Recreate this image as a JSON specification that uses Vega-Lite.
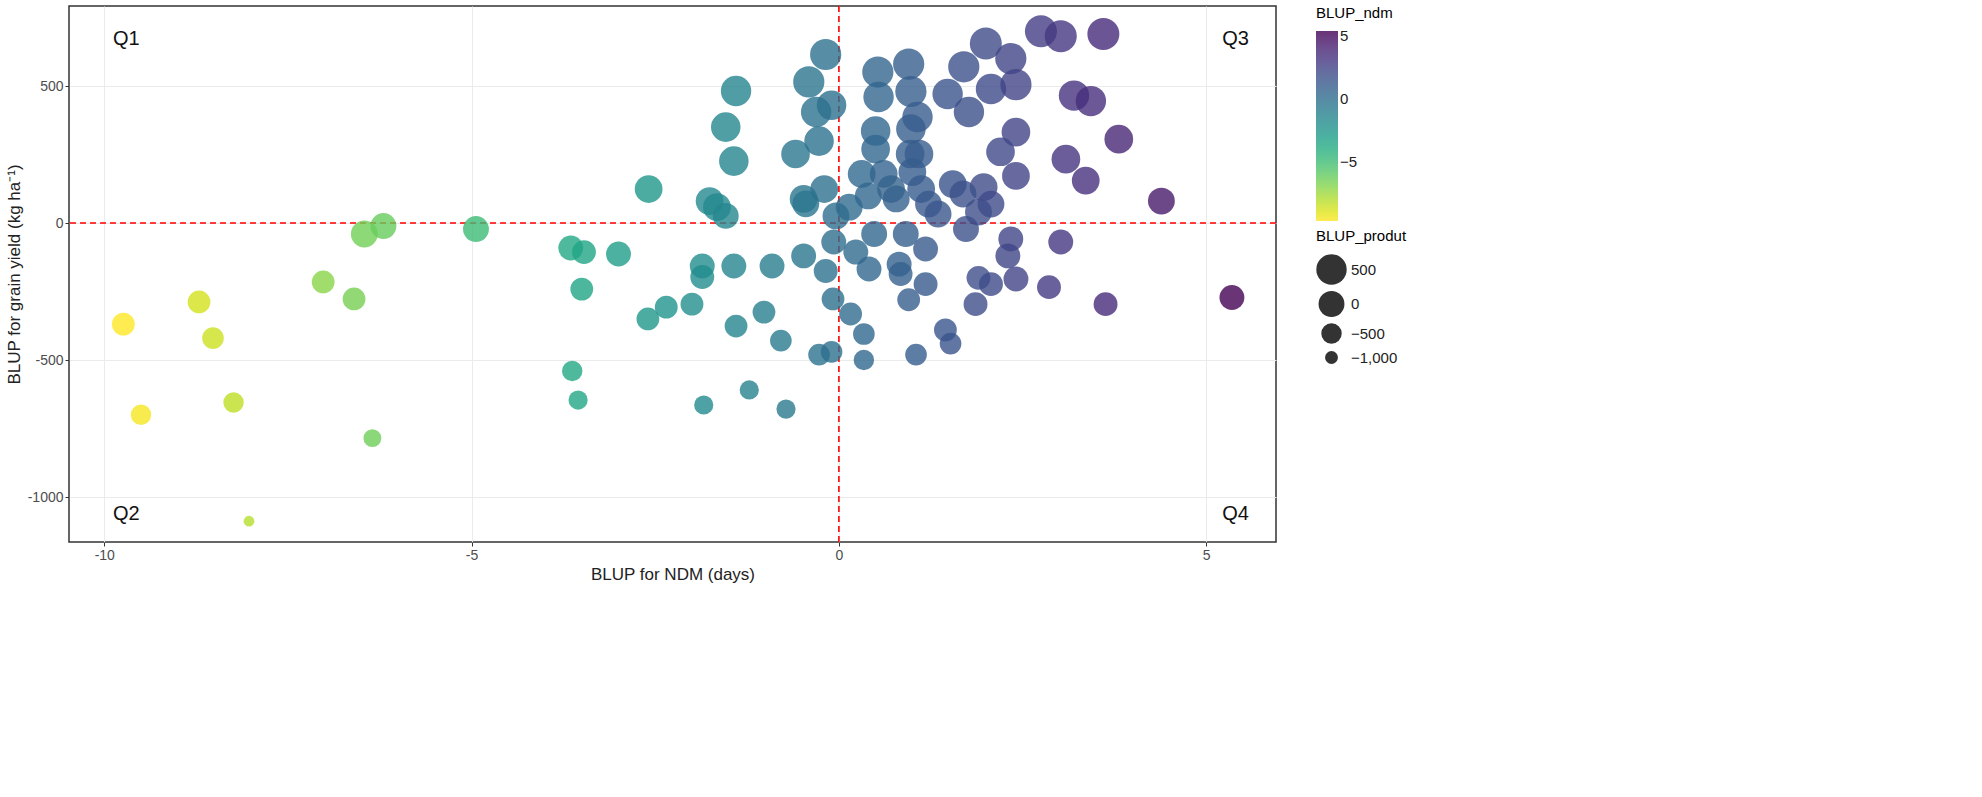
{
"$schema":"https://vega.github.io/schema/vega-lite/v6.json",
"width":1207,"height":536,
"background":"white",
"config":{"font":"Liberation Sans","view":{"stroke":"#333333","strokeWidth":1.5},
 "axis":{"gridColor":"#ebebeb","domain":false,"tickColor":"#333","tickSize":4,"labelColor":"#4d4d4d","labelFontSize":14,"titleFontSize":17,"titleFontWeight":"normal","titleColor":"#222","labelExpr":"'' + datum.value"},
 "legend":{"titleFontSize":15,"titleFontWeight":"normal","labelFontSize":15,"labelColor":"#222","offset":40,"titlePadding":10,"rowPadding":6,"labelExpr":"'' + datum.value"}},
"datasets":{"pts":[
{"ndm":-9.74,"gy":-369,"produt":-300},{"ndm":-9.5,"gy":-700,"produt":-500},{"ndm":-8.71,"gy":-288,"produt":-300},{"ndm":-8.52,"gy":-420,"produt":-400},{"ndm":-8.24,"gy":-655,"produt":-500},{"ndm":-8.03,"gy":-1088,"produt":-1100},{"ndm":-7.02,"gy":-215,"produt":-300},{"ndm":-6.6,"gy":-277,"produt":-300},{"ndm":-6.35,"gy":-785,"produt":-700},{"ndm":-6.46,"gy":-40,"produt":100},{"ndm":-6.2,"gy":-11,"produt":0},{"ndm":-4.94,"gy":-22,"produt":0},
{"ndm":-3.65,"gy":-91,"produt":-100},{"ndm":-3.47,"gy":-106,"produt":-200},{"ndm":-3.5,"gy":-241,"produt":-300},{"ndm":-3.0,"gy":-113,"produt":-100},{"ndm":-3.63,"gy":-540,"produt":-500},{"ndm":-3.55,"gy":-646,"produt":-600},{"ndm":-2.59,"gy":124,"produt":200},{"ndm":-2.6,"gy":-350,"produt":-300},{"ndm":-2.35,"gy":-307,"produt":-300},{"ndm":-2.0,"gy":-296,"produt":-300},{"ndm":-1.76,"gy":80,"produt":200},{"ndm":-1.66,"gy":58,"produt":200},{"ndm":-1.54,"gy":26,"produt":0},{"ndm":-1.86,"gy":-157,"produt":-100},{"ndm":-1.86,"gy":-197,"produt":-200},{"ndm":-1.84,"gy":-664,"produt":-600},{"ndm":-1.4,"gy":482,"produt":500},{"ndm":-1.54,"gy":350,"produt":400},{"ndm":-1.43,"gy":226,"produt":400},{"ndm":-1.43,"gy":-157,"produt":-100},{"ndm":-1.4,"gy":-376,"produt":-300},{"ndm":-1.22,"gy":-609,"produt":-600},{"ndm":-1.02,"gy":-325,"produt":-300},{"ndm":-0.91,"gy":-157,"produt":-100},{"ndm":-0.79,"gy":-429,"produt":-400},{"ndm":-0.72,"gy":-679,"produt":-600},{"ndm":-0.59,"gy":252,"produt":300},{"ndm":-0.48,"gy":-120,"produt":-100},{"ndm":-0.41,"gy":515,"produt":600},{"ndm":-0.31,"gy":405,"produt":500},{"ndm":-0.27,"gy":299,"produt":400},{"ndm":-0.48,"gy":88,"produt":200},{"ndm":-0.45,"gy":70,"produt":100},{"ndm":-0.18,"gy":615,"produt":600},{"ndm":-0.1,"gy":430,"produt":400},{"ndm":-0.2,"gy":124,"produt":200},{"ndm":-0.04,"gy":26,"produt":100},{"ndm":-0.27,"gy":-480,"produt":-400},{"ndm":-0.1,"gy":-470,"produt":-400},{"ndm":-0.18,"gy":-175,"produt":-200},{"ndm":-0.08,"gy":-277,"produt":-300},{"ndm":-0.07,"gy":-69,"produt":-100},
{"ndm":0.14,"gy":58,"produt":100},{"ndm":0.23,"gy":-106,"produt":-100},{"ndm":0.16,"gy":-332,"produt":-300},{"ndm":0.34,"gy":-405,"produt":-400},{"ndm":0.34,"gy":-500,"produt":-500},{"ndm":0.31,"gy":179,"produt":200},{"ndm":0.4,"gy":99,"produt":100},{"ndm":0.41,"gy":-168,"produt":-100},{"ndm":0.48,"gy":-40,"produt":0},{"ndm":0.5,"gy":270,"produt":300},{"ndm":0.53,"gy":551,"produt":600},{"ndm":0.54,"gy":460,"produt":500},{"ndm":0.5,"gy":336,"produt":400},{"ndm":0.61,"gy":179,"produt":200},{"ndm":0.71,"gy":124,"produt":200},{"ndm":0.78,"gy":88,"produt":100},{"ndm":0.82,"gy":-150,"produt":-100},{"ndm":0.91,"gy":-40,"produt":0},{"ndm":0.95,"gy":580,"produt":600},{"ndm":0.98,"gy":480,"produt":600},{"ndm":0.98,"gy":343,"produt":400},{"ndm":0.97,"gy":252,"produt":300},{"ndm":1.0,"gy":186,"produt":200},{"ndm":0.95,"gy":-280,"produt":-300},{"ndm":0.84,"gy":-186,"produt":-200},{"ndm":1.07,"gy":387,"produt":500},{"ndm":1.09,"gy":252,"produt":300},{"ndm":1.12,"gy":124,"produt":200},{"ndm":1.18,"gy":-95,"produt":-100},{"ndm":1.22,"gy":69,"produt":100},{"ndm":1.05,"gy":-480,"produt":-400},{"ndm":1.18,"gy":-223,"produt":-200},{"ndm":1.35,"gy":33,"produt":100},{"ndm":1.52,"gy":-440,"produt":-400},{"ndm":1.55,"gy":142,"produt":200},{"ndm":1.73,"gy":-22,"produt":0},{"ndm":1.45,"gy":-390,"produt":-300},
{"ndm":1.48,"gy":471,"produt":500},{"ndm":1.7,"gy":570,"produt":600},{"ndm":1.77,"gy":405,"produt":500},{"ndm":2.0,"gy":655,"produt":700},{"ndm":2.07,"gy":489,"produt":500},{"ndm":2.34,"gy":600,"produt":600},{"ndm":2.41,"gy":505,"produt":600},{"ndm":2.41,"gy":332,"produt":300},{"ndm":2.2,"gy":260,"produt":300},{"ndm":2.41,"gy":172,"produt":200},{"ndm":1.97,"gy":131,"produt":200},{"ndm":1.69,"gy":106,"produt":100},{"ndm":2.07,"gy":69,"produt":100},{"ndm":1.9,"gy":40,"produt":100},{"ndm":2.34,"gy":-58,"produt":-100},{"ndm":2.41,"gy":-204,"produt":-100},{"ndm":2.07,"gy":-223,"produt":-200},{"ndm":1.86,"gy":-296,"produt":-200},{"ndm":2.3,"gy":-120,"produt":-100},{"ndm":1.9,"gy":-200,"produt":-200},
{"ndm":2.75,"gy":700,"produt":700},{"ndm":3.02,"gy":682,"produt":700},{"ndm":3.6,"gy":690,"produt":700},{"ndm":3.2,"gy":465,"produt":500},{"ndm":3.43,"gy":445,"produt":500},{"ndm":3.09,"gy":233,"produt":300},{"ndm":3.36,"gy":155,"produt":200},{"ndm":3.81,"gy":306,"produt":300},{"ndm":4.39,"gy":80,"produt":100},{"ndm":5.35,"gy":-272,"produt":-100},{"ndm":3.63,"gy":-296,"produt":-200},{"ndm":3.02,"gy":-69,"produt":-100},{"ndm":2.86,"gy":-234,"produt":-200}
],
"labs":[{"x":-9.7,"y":670,"t":"Q1"},{"x":-9.7,"y":-1060,"t":"Q2"},{"x":5.4,"y":670,"t":"Q3"},{"x":5.4,"y":-1060,"t":"Q4"}],
"zero":[{"v":0}]},
"layer":[
{"data":{"name":"zero"},"mark":{"type":"rule","color":"#ff0000","strokeDash":[6,4],"strokeWidth":1.6},"encoding":{"x":{"field":"v","type":"quantitative"}}},
{"data":{"name":"zero"},"mark":{"type":"rule","color":"#ff0000","strokeDash":[6,4],"strokeWidth":1.6},"encoding":{"y":{"field":"v","type":"quantitative"}}},
{"data":{"name":"pts"},"mark":{"type":"circle","opacity":0.8},
 "encoding":{
  "x":{"field":"ndm","type":"quantitative","scale":{"domain":[-10.48,5.95],"nice":false,"zero":false},"axis":{"values":[-10,-5,0,5],"title":"BLUP for NDM (days)"}},
  "y":{"field":"gy","type":"quantitative","scale":{"domain":[-1164,792],"nice":false},"axis":{"values":[-1000,-500,0,500],"title":"BLUP for grain yield (kg ha⁻¹)"}},
  "color":{"field":"ndm","type":"quantitative","title":"BLUP_ndm","scale":{"scheme":"viridis","reverse":true,"domain":[-9.7,5.4]},"legend":{"values":[5,0,-5],"gradientLength":190,"gradientThickness":22,"orient":"right"}},
  "size":{"field":"produt","type":"quantitative","title":"BLUP_produt","scale":{"domain":[-1150,750],"range":[90,1050],"zero":false},"legend":{"values":[500,0,-500,-1000],"symbolFillColor":"#333","symbolOpacity":1,"symbolStrokeWidth":0}}
 }},
{"data":{"name":"labs"},"mark":{"type":"text","fontSize":20,"color":"#111"},"encoding":{"x":{"field":"x","type":"quantitative"},"y":{"field":"y","type":"quantitative"},"text":{"field":"t"}}}
]
}
